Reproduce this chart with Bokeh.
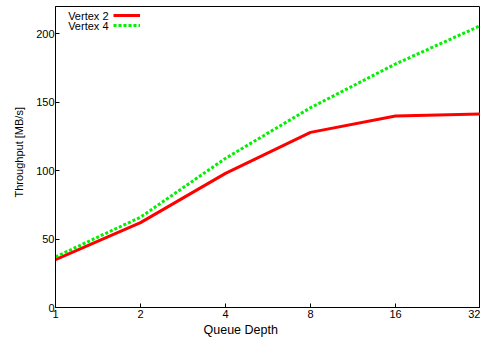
from bokeh.plotting import figure
from bokeh.models import Range1d, FixedTicker, Legend, LegendItem, Label, Title
from bokeh.embed import file_html
from bokeh.resources import INLINE

# Data
queue_depth = [1, 2, 4, 8, 16, 32]
vertex2 = [35, 62, 98, 128, 140, 141.5]
vertex4 = [37, 66, 109, 146, 178, 206]
x_tick_labels = ["1", "2", "4", "8", "16", "32"]
y_ticks = [0, 50, 100, 150, 200]
series_names = ["Vertex 2", "Vertex 4"]
x_title = "Queue Depth"
y_title = "Throughput [MB/s]"

FONT = "Liberation Sans"

p = figure(width=480, height=338, x_axis_type="log",
           x_range=Range1d(1, 32), y_range=Range1d(0, 220),
           output_backend="svg", toolbar_location=None,
           min_border_left=55, min_border_right=0, min_border_top=6,
           min_border_bottom=31)
p.outline_line_color = "black"
p.outline_line_width = 1
p.xgrid.visible = False
p.ygrid.visible = False
p.background_fill_color = "white"
p.border_fill_color = "white"

r2 = p.line(queue_depth, vertex2, line_color="#ff0000", line_width=3)
r4 = p.line(queue_depth, vertex4, line_color="#00f000", line_width=3, line_dash="3 2")


def style_axis(ax):
    ax.major_tick_in = 4
    ax.major_tick_out = 0
    ax.minor_tick_in = 0
    ax.minor_tick_out = 0
    ax.axis_line_color = "black"
    ax.major_tick_line_color = "black"
    ax.major_label_text_font = FONT
    ax.major_label_text_font_size = "11px"
    ax.major_label_text_color = "black"


xax = p.xaxis[0]
xax.ticker = FixedTicker(ticks=queue_depth)
overrides = {}
for v, t in zip(queue_depth, x_tick_labels):
    overrides[v] = t
    overrides[float(v)] = t
xax.major_label_overrides = overrides
style_axis(xax)
xax.major_label_standoff = 2

yax = p.yaxis[0]
yax.ticker = FixedTicker(ticks=y_ticks)
style_axis(yax)
yax.major_label_standoff = 1

# axis titles, shifted to where the reference draws them
p.add_layout(Title(text=x_title, align="left", offset=148, standoff=0,
                   text_font=FONT, text_font_size="12.5px", text_font_style="normal",
                   text_color="black"), "below")
p.add_layout(Title(text=y_title, align="left", offset=110, standoff=18,
                   text_font=FONT, text_font_size="11px", text_font_style="normal",
                   text_color="black"), "left")

# gnuplot-style key: text right-aligned, line sample on its right
legend = Legend(items=[LegendItem(label="", renderers=[r2]),
                       LegendItem(label="", renderers=[r4])],
                location=(58, 277), glyph_width=27, glyph_height=10,
                label_height=10, label_width=0, label_standoff=0,
                padding=0, spacing=0, margin=0,
                border_line_color=None, background_fill_alpha=0,
                label_text_font_size="11px")
p.add_layout(legend)

for i, name in enumerate(series_names):
    p.add_layout(Label(x=53, y=292 - 10 * i, x_units="screen", y_units="screen",
                       text=name, text_align="right", text_baseline="middle",
                       text_font=FONT, text_font_size="11px", text_color="black"))

open("out.html", "w").write(file_html(p, INLINE))
